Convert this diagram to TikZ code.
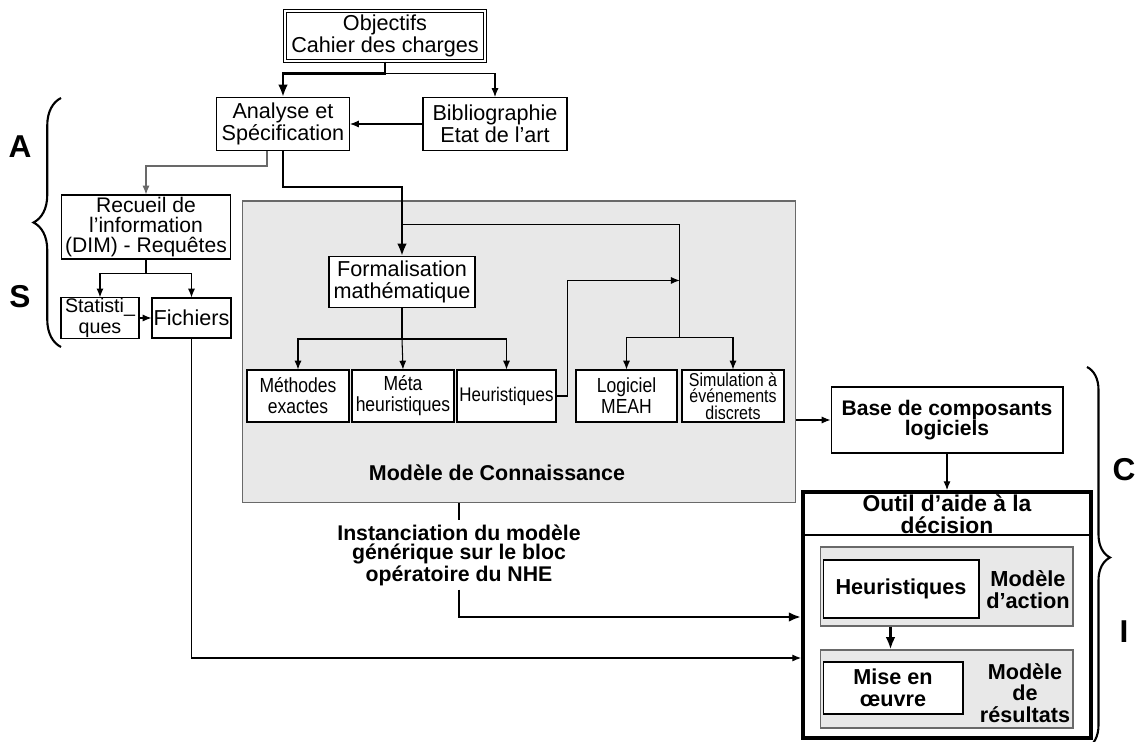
\documentclass[tikz,border=0pt]{standalone}
\usepackage{fontspec}
\setmainfont{Liberation Sans}
\newfontfamily\narrowfont[FakeStretch=0.86]{Liberation Sans}
\usetikzlibrary{calc,arrows.meta,decorations.pathreplacing}
\definecolor{fondgris}{RGB}{232,232,232}
\definecolor{traitgris}{RGB}{105,105,105}
\tikzset{
  boite/.style={draw, fill=white, align=center, inner sep=0.5pt, font=\fontsize{12.3}{12.8}\selectfont},
  petite/.style={boite, font=\narrowfont\fontsize{11.6}{12}\selectfont},
  grasse/.style={boite, font=\fontsize{12}{11.5}\selectfont\bfseries},
  zone/.style={draw=traitgris, fill=fondgris},
  fleche/.style={-{Latex[length=5pt,width=4pt]}},
  grosse/.style={line width=1.6pt, -{Latex[length=7pt,width=5.5pt]}},
  lettre/.style={font=\fontsize{18}{18}\selectfont\bfseries},
  accolade/.style={decorate, line width=1.2pt},
}

\begin{document}
\begin{tikzpicture}[x=0.02cm,y=-0.02cm,line width=0.6pt]
%set bounding box
\useasboundingbox (0,0) rectangle (1135,742);
%Modele de connaissance (zone grise)
\node[zone, minimum width=11.08cm, minimum height=6.04cm] (con) at (519,352) {};
\node[font=\fontsize{12.2}{12}\selectfont\bfseries] (titrecon) at (497,473) {Modèle de Connaissance};
%Haut du schema
\node[boite, double, double distance=1.3pt, minimum width=4.0cm, minimum height=1.0cm] (obj) at (385,36) {Objectifs\\Cahier des charges};
\node[boite, minimum width=2.66cm, minimum height=1.06cm] (ana) at (283,124) {Analyse et\\Spécification};
\node[boite, minimum width=2.88cm, minimum height=1.06cm] (bib) at (495,124) {Bibliographie\\Etat de l’art};
\draw[grosse] (obj.south) -- ++(0,12) -| (ana.north);
\draw[fleche] (obj.south) ++(0,12) -| (bib.north);
\draw[fleche] (bib.west) -- (ana.east);
%Partie A S
\node[boite, minimum width=3.38cm, minimum height=1.28cm, font=\fontsize{12}{11.6}\selectfont] (rec) at (146,227) {Recueil de\\l’information\\(DIM) - Requêtes};
\node[boite, minimum width=1.56cm, minimum height=0.8cm, font=\fontsize{11.2}{11.5}\selectfont] (stat) at (100,318) {Statisti\_\\ques};
\node[boite, minimum width=1.58cm, minimum height=0.8cm] (fic) at (191.5,318) {Fichiers};
\draw[fleche, draw=traitgris] ($(ana.south)+(-16,0)$) -- ++(0,15) -| (rec.north);
\draw (rec.south) -- ++(0,14) coordinate (j5);
\draw[fleche] (j5) -| (stat.north);
\draw[fleche] (j5) -| (fic.north);
\draw[fleche] (stat.east) -- (fic.west);
%Formalisation
\node[boite, minimum width=2.92cm, minimum height=1.02cm] (form) at (402,282) {Formalisation\\mathématique};
\draw[grosse] (ana.south) -- ++(0,36) -| (form.north);
%Rangee du bas
\node[petite, minimum width=2.04cm, minimum height=1.04cm] (meth) at (298,396) {Méthodes\\exactes};
\node[petite, minimum width=2.04cm, minimum height=1.04cm] (meta) at (403,396) {Méta\\heuristiques};
\node[petite, minimum width=1.98cm, minimum height=1.04cm, font=\narrowfont\fontsize{11.2}{12}\selectfont] (heu) at (506.5,396) {Heuristiques};
\node[petite, minimum width=2.02cm, minimum height=1.04cm] (meah) at (626.5,396) {Logiciel\\MEAH};
\node[petite, minimum width=2.04cm, minimum height=1.04cm, font=\narrowfont\fontsize{10.6}{9.4}\selectfont] (sim) at (733,396) {Simulation à\\événements\\discrets};
\draw (form.south) -- ++(0,31) coordinate (j4);
\draw[fleche] (j4) -| (meth.north);
\draw[fleche] (j4) -- (meta.north);
\draw[fleche] (j4) -| (heu.north);
%Branche logiciel / simulation
\coordinate (j1) at ($(form.north)+(0,-31)$);
\coordinate (j2) at ($(meah.north)!0.5!(sim.north)+(0,-32)$);
\draw (j1) -| (j2);
\draw[fleche] (j2) -| (meah.north);
\draw[fleche] (j2) -| (sim.north);
\coordinate (j3) at ($(j2)+(0,-57)$);
\draw[fleche] (heu.east) -- ++(11,0) |- (j3);
%Partie C I
\node[grasse, minimum width=4.64cm, minimum height=1.32cm] (base) at (947,420) {Base de composants\\logiciels};
\draw[fleche] (con.east |- base.west) -- (base.west);
\node[draw, line width=2.2pt, minimum width=5.76cm, minimum height=4.92cm] (outil) at (947,615) {};
\coordinate (hdr) at (0,535);
\draw[line width=1.6pt] (outil.west |- hdr) -- (outil.east |- hdr);
\node[align=center, inner sep=0pt, font=\fontsize{13}{12.4}\selectfont\bfseries] (titreoutil) at (947,514) {Outil d’aide à la\\décision};
\draw[fleche] (base.south) -- (outil.north);
\node[zone, minimum width=5.06cm, minimum height=1.58cm] (act) at (946.5,586.5) {};
\node[grasse, font=\fontsize{12.3}{12}\selectfont\bfseries, minimum width=3.12cm, minimum height=1.16cm] (heur) at (901,589) {Heuristiques};
\node[align=center, font=\fontsize{12.4}{12.5}\selectfont\bfseries] (actlab) at (1028,590) {Modèle\\d’action};
\node[zone, minimum width=5.06cm, minimum height=1.56cm] (res) at (946.5,689) {};
\node[grasse, font=\fontsize{12.3}{12.5}\selectfont\bfseries, minimum width=2.8cm, minimum height=1.04cm] (mise) at (893,688) {Mise en\\œuvre};
\node[align=center, font=\fontsize{12.3}{12.3}\selectfont\bfseries] (reslab) at (1025,693) {Modèle\\de\\résultats};
\draw[grosse] ($(act.south)+(-56,0)$) -- ($(res.north)+(-56,0)$);
%Instanciation
\node[align=center, inner sep=2pt, font=\fontsize{12.1}{10.9}\selectfont\bfseries] (inst) at (459,555) {Instanciation du modèle\\générique sur le bloc\\opératoire du NHE};
\draw[line width=1.6pt] (inst.north |- con.south) -- (inst.north);
\draw[grosse] (inst.south) |- ($(outil.west)+(0,2)$);
\draw[fleche] (fic.south) |- ($(outil.west)+(0,43)$);
%Accolades et lettres
\draw[accolade, decoration={brace, amplitude=0.55cm}] (61,347) -- (61,98);
\draw[accolade, decoration={brace, amplitude=0.46cm}] (1087,367) -- (1087,748);
\node[lettre] (lA) at (20,147) {A};
\node[lettre] (lS) at (20,297) {S};
\node[lettre] (lC) at (1124,470) {C};
\node[lettre] (lI) at (1124,632) {I};
\end{tikzpicture}
\end{document}
